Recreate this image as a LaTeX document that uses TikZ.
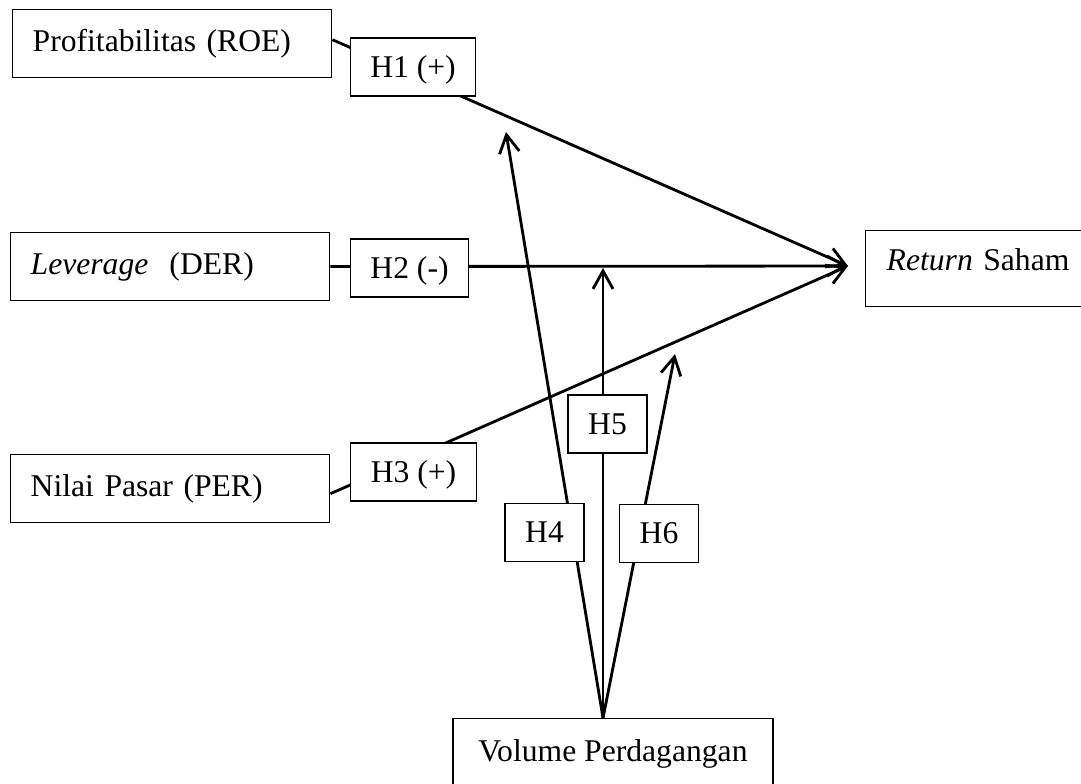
\documentclass[tikz,border=0pt]{standalone}
\usepackage{fontspec}
\setmainfont{Liberation Serif}
\usetikzlibrary{arrows.meta,calc}

\begin{document}
\begin{tikzpicture}[x=0.2mm,y=-0.2mm,
        font=\fontsize{18}{21.6}\selectfont,
        varbox/.style={draw,line width=0.8pt,anchor=north west,minimum height=13.6mm,text width=55.8mm,inner xsep=4mm,align=left},
        hbox/.style={draw,line width=0.8pt,fill=white,inner xsep=4mm,minimum height=11.6mm,text depth=0pt},
        endbox/.style={draw,line width=0.8pt,text height=12pt,text depth=10pt},
        link/.style={line width=1.6pt,-{Straight Barb[length=3.6mm,width=4mm]}}]
        \useasboundingbox (0,0) rectangle (1081,783);
        \clip (0,0) rectangle (1081,783);

            \node[varbox] (roe) at (12,9) {Profitabilitas (ROE)};
            \node[varbox] (lev) at (10,232) {\textit{Leverage}\ \ (DER)};
            \node[varbox] (per) at (10,454) {Nilai Pasar (PER)};
            \node[endbox,anchor=north west,minimum height=15.2mm,text width=37.6mm,inner xsep=4.2mm,align=left] (ret) at (865,230) {\textit{Return} Saham};
            \node[endbox,anchor=north,minimum width=64mm,minimum height=16.4mm] (vp) at (613,718) {Volume Perdagangan};

            \coordinate (tip) at (848,266);
            \coordinate (src) at ($(vp.north)+(-10,0)$);
            \coordinate (t4) at (506,132);
            \coordinate (t5) at (603,268);
            \coordinate (t6) at (675,354);

            \draw[link] ($(roe.east)+(0,-4)$) -- (tip);
            \draw[link] (lev) -- (tip);
            \draw[link] ($(per.east)+(0,5)$) -- (tip);
            \draw[link] (src) -- (t4);
            \draw[link] (src) -- (t5);
            \draw[link] (src) -- (t6);

            \node[hbox] (h1) at (413,67) {H1 (+)};
            \node[hbox] (h2) at (409.5,268) {H2 (-)};
            \node[hbox] (h3) at (413.5,472) {H3 (+)};
            \node[hbox] (h4) at (544.5,532.5) {H4};
            \node[hbox] (h5) at (607.5,424) {H5};
            \node[hbox] (h6) at (659,533.5) {H6};

        \end{tikzpicture}
\end{document}
